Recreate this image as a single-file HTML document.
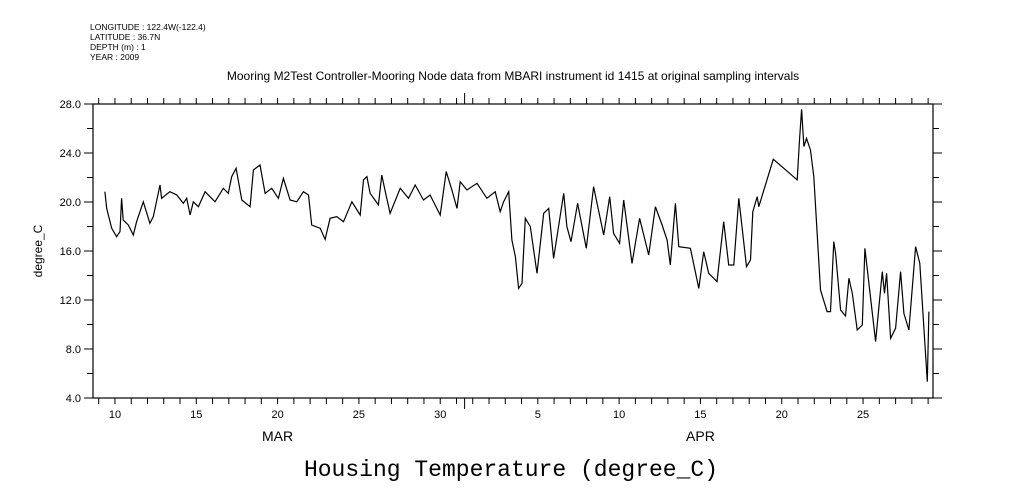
<!DOCTYPE html>
<html><head><meta charset="utf-8"><style>
html,body{margin:0;padding:0;background:#fff;}
svg{display:block;font-family:"Liberation Sans",sans-serif;}
</style></head><body>
<svg id="chart" width="1009" height="504" viewBox="0 0 1009 504" xmlns="http://www.w3.org/2000/svg">
<rect width="1009" height="504" fill="#fff"/>
<g font-size="8.5" fill="#000">
<text x="90" y="30">LONGITUDE : 122.4W(-122.4)</text>
<text x="90" y="40">LATITUDE : 36.7N</text>
<text x="90" y="50">DEPTH (m) : 1</text>
<text x="90" y="60">YEAR : 2009</text>
</g>
<text x="513" y="80" text-anchor="middle" font-size="12">Mooring M2Test Controller-Mooring Node data from MBARI instrument id 1415 at original sampling intervals</text>
<text transform="translate(42,251) rotate(-90)" text-anchor="middle" font-size="12">degree_C</text>
<text x="511" y="476" text-anchor="middle" font-family="'Liberation Mono',monospace" font-size="23">Housing Temperature (degree_C)</text>
<g id="axes"></g>
<g id="series"></g>
</svg>
<script>
const yTicks=[4,8,12,16,20,24,28];
const yTickLabels=["4.0","8.0","12.0","16.0","20.0","24.0","28.0"];
const xTickDays=[10,15,20,25,30,36,41,46,51,56];
const xTickLabels=["10","15","20","25","30","5","10","15","20","25"];
const monthDays=[20,46];
const monthLabels=["MAR","APR"];
const days=[9.38,9.49,9.80,10.10,10.31,10.41,10.51,10.82,11.13,11.33,11.74,12.15,12.36,12.77,12.87,13.38,13.80,14.20,14.41,14.62,14.82,15.13,15.54,16.15,16.66,16.97,17.18,17.45,17.80,18.31,18.51,18.92,19.23,19.64,20.05,20.36,20.77,21.18,21.59,21.90,22.10,22.62,22.92,23.23,23.64,24.05,24.57,25.08,25.28,25.49,25.69,26.20,26.41,26.62,26.92,27.54,28.05,28.46,28.97,29.38,30.00,30.37,30.72,31.03,31.23,31.64,32.26,32.87,33.38,33.69,33.90,34.21,34.41,34.62,34.82,35.03,35.23,35.54,35.95,36.36,36.67,36.97,37.59,37.79,38.04,38.45,38.98,39.43,40.05,40.42,40.66,41.03,41.28,41.79,42.26,42.82,43.23,43.64,43.95,44.15,44.46,44.67,45.38,45.90,46.20,46.51,47.02,47.43,47.74,48.05,48.36,48.83,49.08,49.22,49.49,49.59,50.48,51.95,52.09,52.22,52.36,52.52,52.77,52.97,53.38,53.79,54.00,54.20,54.31,54.62,54.92,55.13,55.34,55.64,55.95,56.11,56.36,56.77,57.18,57.32,57.45,57.69,58.00,58.31,58.51,58.82,59.23,59.49,59.95,60.05];
const temps=[20.84,19.48,17.85,17.17,17.58,20.30,18.53,18.12,17.31,18.39,20.02,18.26,18.80,21.39,20.30,20.84,20.57,19.89,20.30,18.94,20.02,19.62,20.84,20.02,21.12,20.71,22.07,22.75,20.16,19.62,22.61,23.02,20.71,21.12,20.30,21.93,20.16,20.02,20.84,20.57,18.12,17.85,16.95,18.67,18.80,18.39,20.02,18.94,21.80,22.07,20.71,19.76,22.20,20.84,19.08,21.12,20.30,21.39,20.16,20.57,18.94,22.48,20.98,19.48,21.66,20.98,21.53,20.30,20.84,19.21,20.02,20.84,16.90,15.53,12.95,13.36,18.67,17.99,14.18,19.08,19.48,15.40,20.71,17.99,16.76,19.89,16.22,21.25,17.31,20.43,17.44,16.63,20.16,14.99,18.67,15.67,19.62,18.12,16.90,14.86,19.89,16.35,16.22,12.95,15.94,14.18,13.50,18.39,14.86,14.86,20.30,14.72,15.27,19.21,20.43,19.62,23.49,21.80,25.06,27.57,24.52,25.20,24.24,22.07,12.82,11.05,11.05,16.76,15.81,11.18,10.69,13.77,12.55,9.55,9.96,16.22,13.36,8.60,14.31,12.55,14.18,8.87,9.69,14.31,10.91,9.55,16.35,15.0,5.33,11.05];
const L=93,R=933,T=104,B=398,D0=8.65,D1=60.3,Y0=4,Y1=28;
const xs=d=>L+(d-D0)/(D1-D0)*(R-L);
const ys=v=>B-(v-Y0)/(Y1-Y0)*(B-T);
const NS="http://www.w3.org/2000/svg";
function mk(tag,attrs,parent){const e=document.createElementNS(NS,tag);for(const k in attrs)e.setAttribute(k,attrs[k]);parent.appendChild(e);return e;}
const ax=document.getElementById('axes');
const frame=mk('rect',{x:L,y:T,width:R-L,height:B-T,fill:'none',stroke:'#000','stroke-width':1.2},ax);


let tp='';
for(let d=9;d<=60;d++){const x=xs(d);tp+=`M${x},${T}V${T-6}M${x},${B}V${B+6}`;}
tp+=`M${xs(31.5)},${T}V${T-11}M${xs(31.5)},${B}V${B+11}`;
for(let v=4;v<=28;v+=2){const y=ys(v);const len=v%4===0?9:6;tp+=`M${L},${y}H${L-len}M${R},${y}H${R+len}`;}
const ticks=mk('path',{d:tp,stroke:'#000','stroke-width':1,fill:'none'},ax);


yTicks.forEach((v,i)=>{const t=mk('text',{x:L-12,y:ys(v)+4,'text-anchor':'end','font-size':11},ax);t.textContent=yTickLabels[i];

});
xTickDays.forEach((d,i)=>{const t=mk('text',{x:xs(d),y:B+20,'text-anchor':'middle','font-size':11},ax);t.textContent=xTickLabels[i];

});
monthDays.forEach((d,i)=>{const t=mk('text',{x:xs(d),y:B+43,'text-anchor':'middle','font-size':14},ax);t.textContent=monthLabels[i];

});
const pts=days.map((d,i)=>xs(d).toFixed(1)+','+ys(temps[i]).toFixed(1)).join(' ');
const line=mk('polyline',{points:pts,fill:'none',stroke:'#000','stroke-width':1.2},document.getElementById('series'));


</script>
</body></html>
